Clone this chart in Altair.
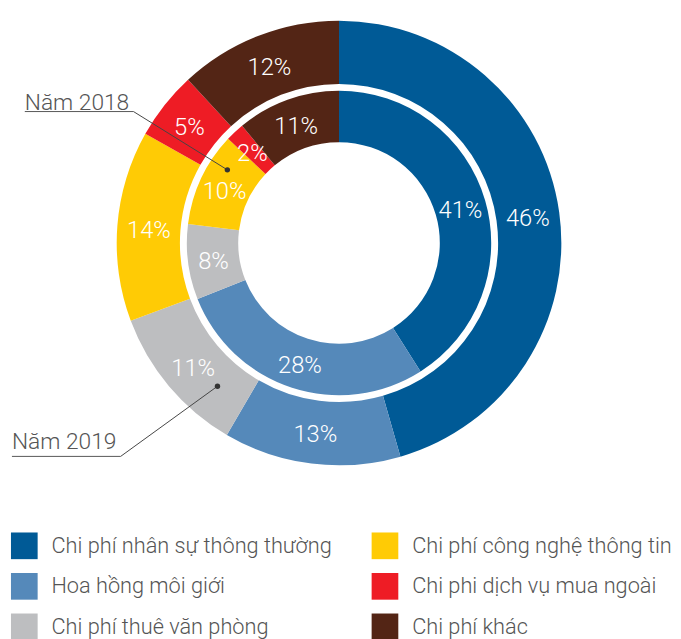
import altair as alt
import pandas as pd

# ---- data ----
categories = [
    "Chi phí nhân sự thông thường",
    "Hoa hồng môi giới",
    "Chi phí thuê văn phòng",
    "Chi phí công nghệ thông tin",
    "Chi phi dịch vụ mua ngoài",
    "Chi phí khác",
]
colors = ["#005A96", "#5589BA", "#BDBEC0", "#FFCB05", "#EE1C25", "#532515"]
values_2019 = [46, 13, 11, 14, 5, 12]
values_2018 = [41, 28, 8, 10, 2, 11]

rows = []
for yr, vals in (("2019", values_2019), ("2018", values_2018)):
    for i, (c, v) in enumerate(zip(categories, vals)):
        rows.append({"year": yr, "category": c, "value": v, "order": i, "label": f"{v}%"})
df = pd.DataFrame(rows)

FONT = "Roboto"
W, H = 670, 468

color_enc = alt.Color(
    "category:N",
    scale=alt.Scale(domain=categories, range=colors),
    legend=alt.Legend(
        title=None,
        orient="none",
        legendX=3,
        legendY=527,
        columns=2,
        symbolType="square",
        symbolSize=729,
        symbolStrokeWidth=0,
        symbolOpacity=1,
        labelFont=FONT,
        labelFontSize=22,
        labelFontWeight=300,
        labelColor="#555555",
        labelOffset=14,
        labelLimit=500,
        rowPadding=14,
        columnPadding=40,
        padding=0,
    ),
)


def ring(year, r_out, r_in):
    base = alt.Chart(df).transform_filter(alt.datum.year == year).encode(
        theta=alt.Theta("value:Q", stack=True),
        order=alt.Order("order:Q", sort="ascending"),
    )
    arc = base.mark_arc(radius=r_out, radius2=r_in).encode(color=color_enc)
    txt = base.mark_text(
        radius=(r_out + r_in) / 2, dy=3, font=FONT, fontSize=24, fontWeight=300, color="white"
    ).encode(text="label:N")
    return [arc, txt]


def annotation(text, tx, ty, ux1, ux2, uy, dx, dy):
    d = pd.DataFrame({"text": [text]})
    base = alt.Chart(d)
    label = base.mark_text(
        align="left", baseline="alphabetic", font=FONT, fontSize=23, fontWeight=300, color="#555555"
    ).encode(x=alt.value(tx), y=alt.value(ty), text="text:N")
    underline = base.mark_rule(color="#555555", strokeWidth=1).encode(
        x=alt.value(ux1), x2=alt.value(ux2), y=alt.value(uy)
    )
    leader = base.mark_rule(color="#444444", strokeWidth=1).encode(
        x=alt.value(ux2), x2=alt.value(dx), y=alt.value(uy), y2=alt.value(dy)
    )
    dot = base.mark_point(filled=True, size=30, color="#333333", opacity=1).encode(
        x=alt.value(dx), y=alt.value(dy)
    )
    return [label, underline, leader, dot]


layers = (
    ring("2019", 225, 161)
    + ring("2018", 154, 102)
    + annotation("Năm 2018", 17, 99, 17, 127, 101, 222, 160)
    + annotation("Năm 2019", 4, 443, 4, 114, 450, 212, 379)
)

chart = (
    alt.layer(*layers)
    .resolve_scale(theta="independent")
    .properties(
        width=W,
        height=H,
        padding={"left": 0, "top": 0, "right": 3, "bottom": 163},
        autosize=alt.AutoSizeParams(type="none"),
    )
    .configure_view(stroke=None)
)

chart.save("out.html", embed_options={"renderer": "svg", "actions": False})
